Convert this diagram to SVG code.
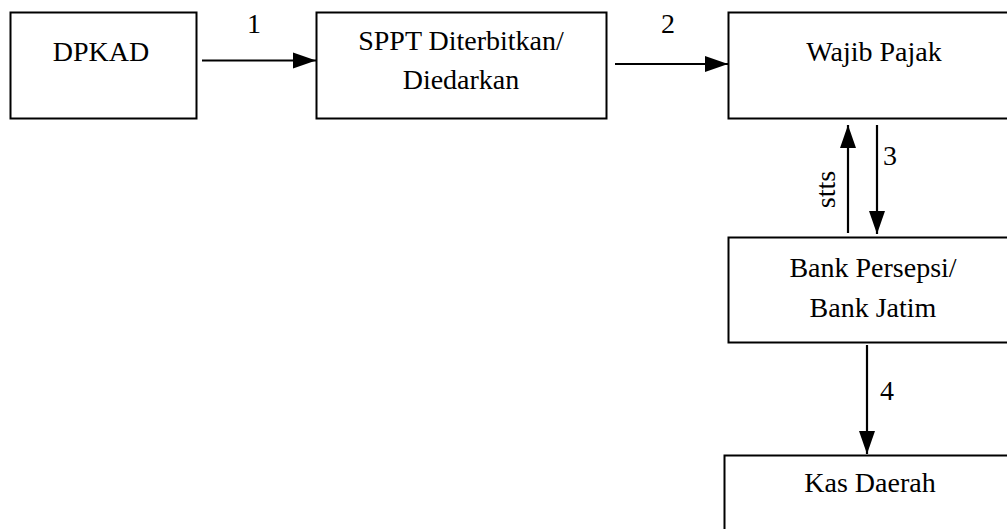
<svg xmlns="http://www.w3.org/2000/svg" width="1007" height="529" viewBox="0 0 1007 529">
  <defs>
    <style>
      .box { fill: #ffffff; stroke: #000000; stroke-width: 2; }
      .lbl { font-size: 28px; fill: #000000; text-anchor: middle; }
      .edge { stroke: #000000; stroke-width: 2.2; fill: none; marker-end: url(#head); }
    </style>
    <marker id="head" markerUnits="userSpaceOnUse" markerWidth="24" markerHeight="18" refX="23" refY="9" orient="auto">
      <path d="M0,1 L23,9 L0,17 z" fill="#000000"/>
    </marker>
  </defs>
  <rect width="1007" height="529" fill="#ffffff"/>

  <g font-family="Liberation Serif, Times New Roman, serif">
    <g id="node-dpkad">
      <rect class="box" x="10.5" y="12.5" width="186" height="106"/>
      <text class="lbl" x="101" y="61">DPKAD</text>
    </g>

    <g id="node-sppt">
      <rect class="box" x="316.5" y="12.5" width="290" height="106"/>
      <text class="lbl" x="461" y="50">SPPT Diterbitkan/</text>
      <text class="lbl" x="461" y="89">Diedarkan</text>
    </g>

    <g id="node-wajib-pajak">
      <rect class="box" x="728.5" y="12.5" width="300" height="106"/>
      <text class="lbl" x="874" y="61">Wajib Pajak</text>
    </g>

    <g id="node-bank">
      <rect class="box" x="728.5" y="237.5" width="300" height="105"/>
      <text class="lbl" x="873" y="277">Bank Persepsi/</text>
      <text class="lbl" x="873" y="317">Bank Jatim</text>
    </g>

    <g id="node-kas-daerah">
      <rect class="box" x="724.5" y="455.5" width="300" height="100"/>
      <text class="lbl" x="870" y="492">Kas Daerah</text>
    </g>

    <g id="connectors">
      <line class="edge" x1="202" y1="60.5" x2="316" y2="60.5"/>
      <text class="lbl" x="254" y="33">1</text>

      <line class="edge" x1="615" y1="64" x2="728" y2="64"/>
      <text class="lbl" x="668" y="33">2</text>

      <line class="edge" x1="848" y1="233" x2="848" y2="125"/>
      <text class="lbl" transform="translate(835 189.5) rotate(-90)" x="0" y="0">stts</text>

      <line class="edge" x1="877" y1="125" x2="877" y2="234"/>
      <text class="lbl" x="890" y="165">3</text>

      <line class="edge" x1="867" y1="345" x2="867" y2="454"/>
      <text class="lbl" x="887" y="400">4</text>
    </g>
  </g>
</svg>
